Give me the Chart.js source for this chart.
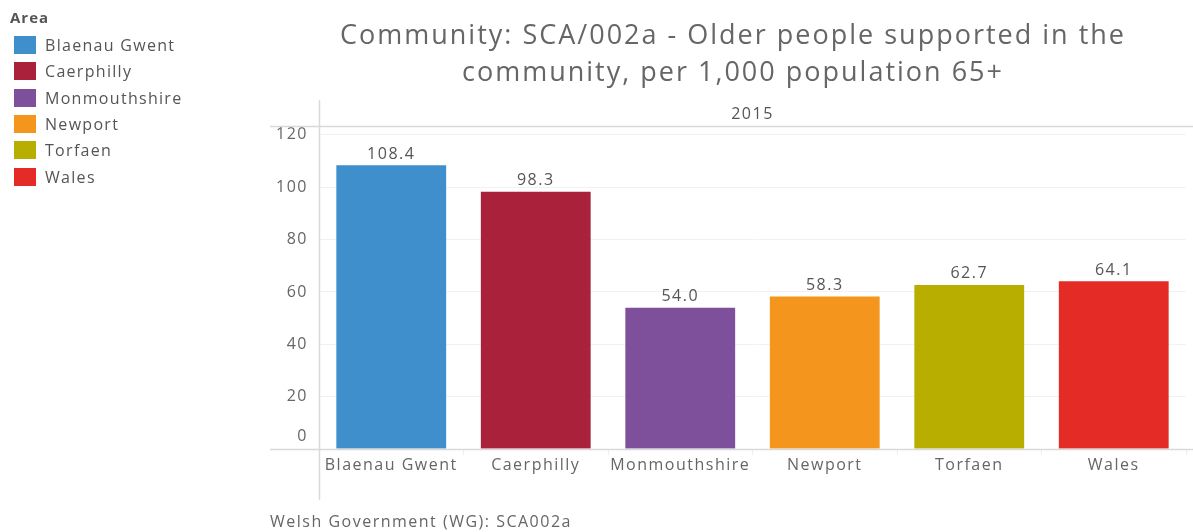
<!DOCTYPE html>
<html>
<head>
<meta charset="utf-8">
<script src="https://cdn.jsdelivr.net/npm/chart.js@4"></script>
<style>
  body { margin: 0; background: #fff; font-family: "Open Sans", sans-serif; color: #555; }
  #wrap { position: relative; width: 1193px; height: 532px; overflow: hidden; }
  canvas { position: absolute; left: 0; top: 0; }
  #legend { position: absolute; left: 10px; top: 7px; font-size: 16px; letter-spacing: 1.3px; color: #555; }
  #legend .head { font-weight: bold; font-size: 15px; letter-spacing: 1px; margin-bottom: 5px; }
  #legend .item { height: 26.3px; display: flex; align-items: center; margin-left: 4px; }
  #legend .sw { width: 22px; height: 18px; margin-right: 9px; }
  #title { position: absolute; left: 300px; width: 866px; top: 15px; text-align: center;
           font-size: 27px; letter-spacing: 2px; line-height: 37px; color: #666; }
  #year { position: absolute; left: 319px; width: 867px; top: 102px; text-align: center;
          font-size: 16px; letter-spacing: 1.5px; color: #555; }
  #footer { position: absolute; left: 270px; top: 510px; font-size: 16px; letter-spacing: 1.5px; color: #666; }
</style>
</head>
<body>
<div id="wrap">
  <canvas id="chart" width="1193" height="532"></canvas>
  <div id="legend"><div class="head">Area</div></div>
  <div id="title">Community: SCA/002a - Older people supported in the<br>community, per 1,000 population 65+</div>
  <div id="year">2015</div>
  <div id="footer">Welsh Government (WG): SCA002a</div>
</div>
<script>
// chart data
const areas = ['Blaenau Gwent', 'Caerphilly', 'Monmouthshire', 'Newport', 'Torfaen', 'Wales'];
const values = [108.4, 98.3, 54.0, 58.3, 62.7, 64.1];
const colours = ['#3f8fcc', '#a9213a', '#7e4f9a', '#f4961e', '#b8ae00', '#e52b25'];
const yTicks = [0, 20, 40, 60, 80, 100, 120];

// legend
const legendEl = document.getElementById('legend');
areas.forEach((a, i) => {
  const row = document.createElement('div');
  row.className = 'item';
  row.innerHTML = '<span class="sw" style="background:' + colours[i] + '"></span><span>' + a + '</span>';
  legendEl.appendChild(row);
});

// wider text spacing on the canvas, like the original
const spacing = {
  id: 'spacing',
  beforeDraw(chart) { chart.ctx.letterSpacing = '1.5px'; }
};

// value labels above bars, the raised 0 tick, and the long frame lines
const extras = {
  id: 'extras',
  afterDatasetsDraw(chart) {
    const ctx = chart.ctx;
    const meta = chart.getDatasetMeta(0);
    ctx.save();
    ctx.letterSpacing = '1.5px';
    ctx.font = '16px "Open Sans"';
    ctx.fillStyle = '#555';
    ctx.textAlign = 'center';
    ctx.textBaseline = 'bottom';
    meta.data.forEach((bar, i) => {
      ctx.fillText(values[i].toFixed(1), bar.x, bar.y - 3);
    });
    const a = chart.chartArea;
    const y0 = chart.scales.y.getPixelForValue(0);
    ctx.fillStyle = '#666';
    ctx.textAlign = 'right';
    ctx.textBaseline = 'middle';
    ctx.fillText('0', a.left - 11, y0 - 13);
    ctx.strokeStyle = '#d9d9d9';
    ctx.lineWidth = 1.5;
    ctx.beginPath();
    ctx.moveTo(270, a.top + 0.5); ctx.lineTo(chart.width, a.top + 0.5);
    ctx.moveTo(270, y0 + 0.5); ctx.lineTo(chart.width, y0 + 0.5);
    ctx.moveTo(a.left + 0.5, 100); ctx.lineTo(a.left + 0.5, 500);
    ctx.stroke();
    ctx.restore();
  }
};

new Chart(document.getElementById('chart'), {
  type: 'bar',
  data: {
    labels: areas,
    datasets: [{
      data: values,
      backgroundColor: colours,
      categoryPercentage: 0.76,
      barPercentage: 1
    }]
  },
  options: {
    responsive: false,
    animation: false,
    layout: { padding: { left: 270, top: 126, right: 7, bottom: 31 } },
    plugins: { legend: { display: false }, tooltip: { enabled: false } },
    scales: {
      x: {
        offset: true,
        grid: { offset: true, drawOnChartArea: false, color: '#eeeeee', tickLength: 6 },
        border: { display: false },
        ticks: { color: '#666', font: { size: 16, family: 'Open Sans' }, padding: 1, maxRotation: 0 },
        afterFit(s) { s.height = 52; }
      },
      y: {
        min: 0,
        max: 123.4,
        afterBuildTicks(s) { s.ticks = yTicks.map(v => ({ value: v })); },
        grid: { color: '#f2f2f2', drawTicks: false },
        border: { display: false },
        ticks: {
          color: '#666', font: { size: 16, family: 'Open Sans' }, padding: 11,
          callback: v => (v === 0 ? '' : v)
        },
        afterFit(s) { s.width = 49; }
      }
    }
  },
  plugins: [spacing, extras]
});
</script>
</body>
</html>
